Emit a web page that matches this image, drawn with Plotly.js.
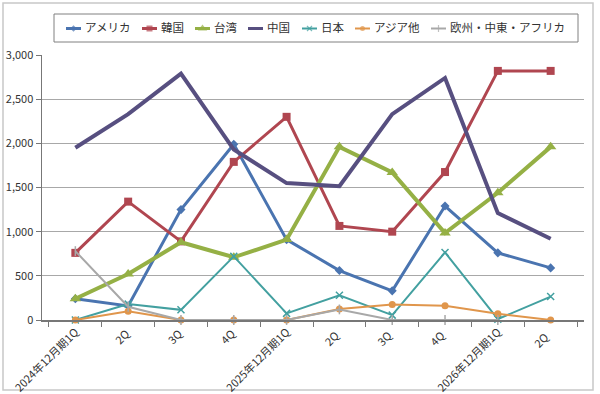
<!DOCTYPE html>
<html>
<head>
<meta charset="utf-8">
<script src="https://cdn.plot.ly/plotly-3.0.1.min.js"></script>
<style>
html,body{margin:0;padding:0;background:#fff;}
#chart{width:600px;height:394px;}
</style>
</head>
<body>
<div id="chart"></div>
<script>
const categories = ["2024年12月期1Q","2Q ","3Q ","4Q ","2025年12月期1Q","2Q  ","3Q  ","4Q  ","2026年12月期1Q","2Q   "];
const america = [240, 160, 1250, 1990, 910, 560, 330, 1290, 760, 590];
const korea   = [760, 1340, 890, 1790, 2300, 1065, 1000, 1675, 2820, 2820];
const taiwan  = [240, 520, 880, 710, 910, 1960, 1670, 985, 1440, 1960];
const china   = [1950, 2330, 2790, 1930, 1550, 1515, 2330, 2740, 1210, 920];
const japan   = [0, 180, 115, 720, 75, 280, 55, 765, 10, 265];
const asiaOther = [0, 100, 0, 0, 0, 125, 175, 160, 70, 0];
const emea    = [780, 150, 0, 0, 0, 120, 0, 0, 0, null];

const names = ["アメリカ","韓国","台湾","中国","日本","アジア他","欧州・中東・アフリカ"];
const series = [america, korea, taiwan, china, japan, asiaOther, emea];
const colors = ["#4A74B0","#B04650","#95B045","#574F80","#43A0A0","#E0964C","#A8A8A8"];
const widths = [3, 3, 4, 4, 2, 2, 2];
const symbols = ["diamond","square","triangle-up",null,"x-thin","circle","line-ns"];
const sizes = [7, 8, 10, 0, 7, 7, 7];

// compact legend key positions (page pixels)
const keyStart = [66, 142, 195, 248, 302, 355, 431];
const keyLen = 15;
const keyY = 28.5;

const traces = series.map((vals, i) => {
  const t = {
    x: categories, y: vals, name: names[i], type: "scatter",
    mode: symbols[i] ? "lines+markers" : "lines",
    line: {color: colors[i], width: widths[i]},
    cliponaxis: false, showlegend: false
  };
  if (symbols[i]) {
    t.marker = {symbol: symbols[i], size: sizes[i], color: colors[i],
      line: {color: colors[i], width: (symbols[i]==="x-thin"||symbols[i]==="line-ns") ? 1.5 : 0}};
  }
  return t;
});

names.forEach((n, i) => {
  const s = keyStart[i];
  const k = {
    x: [s, s + keyLen/2, s + keyLen], y: [keyY, keyY, keyY],
    xaxis: "x2", yaxis: "y2", type: "scatter", showlegend: false,
    mode: symbols[i] ? "lines+markers" : "lines",
    line: {color: colors[i], width: Math.min(widths[i], 3)},
    cliponaxis: false, hoverinfo: "skip"
  };
  if (symbols[i]) {
    const sz = Math.max(5, sizes[i] - 2);
    k.marker = {symbol: symbols[i], size: [0, sz, 0], color: colors[i],
      line: {color: colors[i], width: (symbols[i]==="x-thin"||symbols[i]==="line-ns") ? 1.2 : 0}};
  }
  traces.push(k);
});

const TOP = 10, BOT = 320, W = 542, H = BOT - TOP;
const px = x => (x - 42) / W;
const py = y => (BOT - y) / H;

const annotations = names.map((n, i) => ({
  text: n, xref: "paper", yref: "paper",
  x: px(keyStart[i] + keyLen + 2), y: py(26.5), xanchor: "left", yanchor: "middle",
  showarrow: false, font: {size: 11.5, color: "#333"}
}));

const layout = {
  width: 600, height: 394,
  margin: {l: 42, r: 16, t: TOP, b: 394 - BOT},
  paper_bgcolor: "#fff", plot_bgcolor: "rgba(0,0,0,0)",
  font: {family: "'Noto Sans CJK JP', 'Noto Sans', sans-serif", size: 11, color: "#333"},
  showlegend: false,
  xaxis: {
    type: "category", tickson: "boundaries", ticks: "outside", ticklen: 5,
    tickcolor: "#777", showline: true, linecolor: "#777", linewidth: 1.5,
    showgrid: false, tickangle: -45, tickfont: {size: 11, color: "#333"},
    fixedrange: true, anchor: "y"
  },
  yaxis: {
    domain: [0, py(55)],
    range: [0, 3000], dtick: 500, tickformat: ",d", ticks: "outside", ticklen: 5,
    tickcolor: "#777", showline: true, linecolor: "#777", linewidth: 1.5,
    showgrid: true, gridcolor: "#a8a8a8", gridwidth: 1, zeroline: false,
    tickfont: {size: 11, color: "#333"}, fixedrange: true, anchor: "x"
  },
  xaxis2: {domain: [0, 1], range: [42, 584], visible: false, fixedrange: true, anchor: "y2"},
  yaxis2: {domain: [py(50), 1], range: [50, TOP], visible: false, fixedrange: true, anchor: "x2"},
  annotations: annotations,
  shapes: [{
    type: "rect", xref: "paper", yref: "paper",
    x0: px(3), x1: px(593), y0: py(390), y1: py(3),
    line: {color: "#c8c8c8", width: 1.5}, fillcolor: "rgba(0,0,0,0)", layer: "below"
  }, {
    type: "rect", xref: "paper", yref: "paper",
    x0: px(54), x1: px(578), y0: py(42), y1: py(14),
    line: {color: "#808080", width: 1}, fillcolor: "rgba(0,0,0,0)", layer: "below"
  }]
};

Plotly.newPlot("chart", traces, layout, {displayModeBar: false, staticPlot: true});
</script>
</body>
</html>
